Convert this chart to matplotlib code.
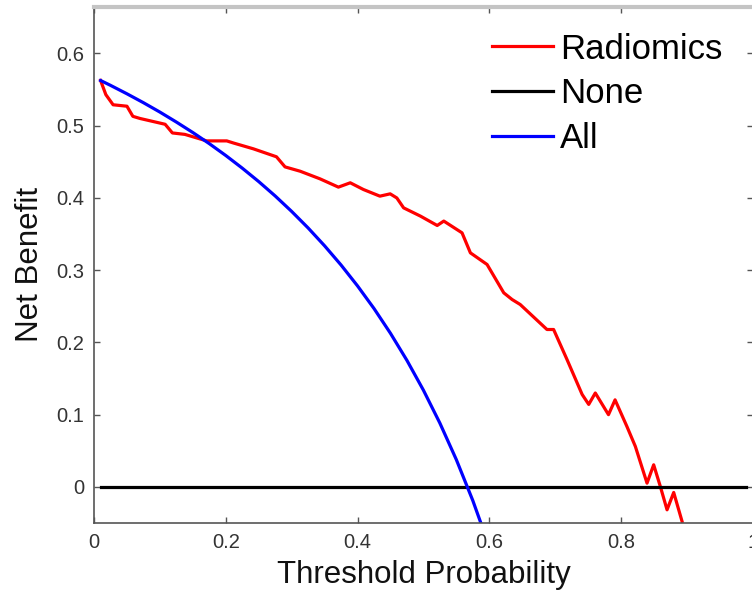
import matplotlib.pyplot as plt

plt.rcParams['font.family'] = ['Liberation Sans', 'DejaVu Sans']

# threshold probabilities and net benefit
radiomics_t = [0.01, 0.018, 0.029, 0.05, 0.059, 0.07, 0.108, 0.119, 0.138, 0.171,
               0.2015, 0.212, 0.242, 0.277, 0.29, 0.313, 0.343, 0.371, 0.389, 0.409,
               0.434, 0.4496, 0.4597, 0.47, 0.4957, 0.521, 0.531, 0.5587, 0.5714, 0.5967,
               0.622, 0.6347, 0.647, 0.6876, 0.6977, 0.718, 0.741, 0.751, 0.761, 0.781,
               0.791, 0.809, 0.8218, 0.8395, 0.8496, 0.8597, 0.8699, 0.88, 0.8927]
radiomics_nb = [0.5626, 0.543, 0.529, 0.527, 0.513, 0.51, 0.502, 0.49, 0.488, 0.479,
                0.479, 0.476, 0.468, 0.457, 0.443, 0.437, 0.4265, 0.415, 0.421, 0.4117,
                0.4025, 0.4057, 0.4, 0.3863, 0.3748, 0.3619, 0.368, 0.3517, 0.324, 0.3079,
                0.2687, 0.2594, 0.2525, 0.2179, 0.2179, 0.1764, 0.128, 0.1142, 0.13, 0.1,
                0.1205, 0.0836, 0.056, 0.0052, 0.0306, 0.0006, -0.0317, -0.0077, -0.0478]

all_t = [0.01, 0.025, 0.05, 0.075, 0.1, 0.125, 0.15, 0.175, 0.2, 0.225, 0.25, 0.275,
         0.3, 0.325, 0.35, 0.375, 0.4, 0.425, 0.45, 0.475, 0.5, 0.525, 0.55, 0.575, 0.6]
all_nb = [0.5626, 0.5559, 0.5442, 0.5319, 0.5189, 0.5051, 0.4906, 0.4752, 0.4588, 0.4413,
          0.4227, 0.4028, 0.3814, 0.3585, 0.3338, 0.3072, 0.2783, 0.247, 0.2127, 0.1752,
          0.134, 0.0884, 0.0378, -0.0188, -0.0825]

none_t = [0.01, 0.99]
none_nb = [0, 0]

xticks = [0, 0.2, 0.4, 0.6, 0.8, 1]
xtick_labels = ['0', '0.2', '0.4', '0.6', '0.8', '1']
yticks = [0, 0.1, 0.2, 0.3, 0.4, 0.5, 0.6]
ytick_labels = ['0', '0.1', '0.2', '0.3', '0.4', '0.5', '0.6']

fig = plt.figure(figsize=(7.52, 6.05), dpi=100)
ax = fig.add_axes([0.125, 0.1355, 0.876, 0.8537])

ax.plot(radiomics_t, radiomics_nb, color='#ff0000', lw=2.3, label='Radiomics')
ax.plot(none_t, none_nb, color='black', lw=2.3, label='None')
ax.plot(all_t, all_nb, color='#0000ff', lw=2.3, label='All')

ax.set_xlim(0, 1)
ax.set_ylim(-0.05, 0.665)
ax.set_xticks(xticks)
ax.set_xticklabels(xtick_labels)
ax.set_yticks(yticks)
ax.set_yticklabels(ytick_labels)
ax.tick_params(direction='in', length=4, width=1, colors='#555555', labelcolor='#333333',
               labelsize=14.5, top=True, right=True, pad=7)

for side in ['left', 'bottom', 'right']:
    ax.spines[side].set_color('#555555')
    ax.spines[side].set_linewidth(1.2)
ax.spines['top'].set_color('#c4c4c4')
ax.spines['top'].set_linewidth(3)

ax.set_xlabel('Threshold Probability', fontsize=22.5, color='#111111', labelpad=6)
ax.set_ylabel('Net Benefit', fontsize=22.5, color='#111111', labelpad=8)

ax.legend(loc='upper right', bbox_to_anchor=(0.985, 0.99), frameon=False, fontsize=25,
          handlelength=1.75, handletextpad=0.2, labelspacing=0.34, borderaxespad=0.2)

fig.savefig('out.png', dpi=100)
